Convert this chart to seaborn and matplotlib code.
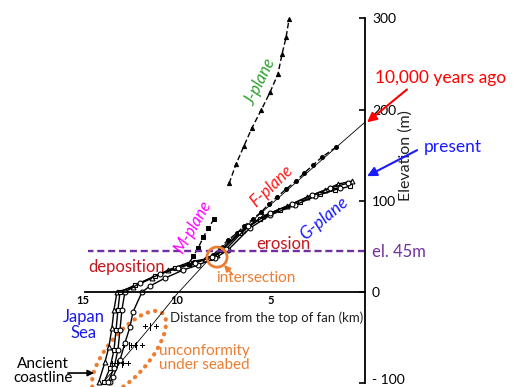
import pandas as pd
import matplotlib.pyplot as plt
import seaborn as sns
from matplotlib.patches import Ellipse
from matplotlib.transforms import ScaledTranslation

# distance from the top of the fan (km) and elevation (m)
j_km = [7.23, 6.86, 6.44, 6.01, 5.53, 5.05, 4.63, 4.41, 4.20, 4.04]
j_el = [119, 140, 160, 180, 199, 219, 239, 261, 279, 299]

f_km = [8.09, 7.71, 7.29, 6.81, 6.44, 5.96, 5.53, 5.11, 4.68, 4.20, 3.67, 3.24, 2.77, 2.29, 1.54]
f_el = [40.5, 48.2, 57.0, 64.6, 72.3, 80.0, 87.6, 96.4, 104.1, 112.8, 121.6, 130.3, 139.1, 147.9, 158.8]

# thin line through the F-plane, continued under the seabed
f_ext_km = [0.0, 8.09, 10.0, 11.33, 13.03, 13.83]
f_ext_el = [186.2, 40.5, -2.2, -36.1, -77.8, -96.4]

m_km = [8.03, 8.33, 8.60, 8.88, 9.15, 9.35]
m_el = [80, 70, 60, 48, 39, 31]

# G-plane bundle (present surface, continuing under the sea)
g_tri_km = [0.69, 1.44, 2.13, 3.09, 4.15, 5.43, 6.49, 7.55, 7.87, 8.51, 9.31, 10.48, 11.33, 12.34, 13.19,
            13.35, 13.46, 13.62, 13.83, 14.15]
g_tri_el = [121.6, 118.3, 111.7, 104.1, 94.2, 83.2, 67.9, 48.2, 40.5, 36.1, 32.9, 24.1, 15.3, 5.5, 0,
            -19.7, -39.4, -60.2, -76.7, -98]

g_sq_km = [0.80, 1.60, 2.39, 3.46, 4.52, 5.59, 6.65, 7.61, 8.24, 9.04, 10.11, 11.17, 12.23, 13.03,
           13.14, 13.24, 13.35, 13.56, 13.88]
g_sq_el = [116, 111.7, 107.3, 98.6, 89.8, 80, 64.6, 46, 37.2, 32.9, 26.3, 17.5, 7.7, 0,
           -19.7, -41.6, -63.5, -83.2, -99]

g_oa_km = [1.33, 2.66, 3.72, 5.05, 6.12, 7.29, 7.98, 8.88, 9.68, 10.64, 11.44, 11.86,
           12.34, 12.50, 12.77, 13.03, 13.40, 13.56]
g_oa_el = [113.9, 105.1, 95.3, 84.3, 70.1, 46, 37.2, 29.6, 24.1, 15.3, 6.6, 0,
           -21.9, -38.3, -55.9, -74.5, -93.1, -99]

g_ob_km = [0.90, 1.86, 2.82, 3.88, 5.05, 6.22, 7.39, 8.14, 9.04, 9.95, 10.9, 11.97, 12.77,
           12.93, 13.03, 13.14, 13.35, 13.67]
g_ob_el = [119.4, 113.9, 106.2, 96.4, 86.5, 72.3, 47.1, 38.3, 31.8, 26.3, 19.7, 9.9, 0,
           -19.7, -41.6, -63.5, -83.2, -99]

# unconformity marks under the seabed
unc_km = [11.40, 12.10, 12.50, 12.85, 13.15]
unc_el = [-38, -59, -59, -79, -79]

sea_level_el = 45

sns.set_style('white')
plt.rcParams['font.family'] = ['Lato', 'DejaVu Sans']

fig = plt.figure(figsize=(5.2, 3.87), dpi=100)
ax = fig.add_axes([0, 0, 1, 1])

dash = (0, (4, 2))
sns.lineplot(x=j_km, y=j_el, sort=False, estimator=None, ax=ax, color='black', lw=1,
             ls=dash, marker='^', ms=3, mfc='black', mec='black')
sns.lineplot(x=f_ext_km, y=f_ext_el, sort=False, estimator=None, ax=ax, color='black', lw=0.6)
sns.lineplot(x=f_km, y=f_el, sort=False, estimator=None, ax=ax, color='black', lw=1,
             ls=dash, marker='o', ms=2.8, mfc='black', mec='black')
sns.lineplot(x=m_km, y=m_el, sort=False, estimator=None, ax=ax, color='black', lw=1,
             ls=dash, marker='s', ms=3, mfc='black', mec='black')

for xs, ys, mk in [(g_tri_km, g_tri_el, '^'), (g_sq_km, g_sq_el, 's'),
                   (g_oa_km, g_oa_el, 'o'), (g_ob_km, g_ob_el, 'o')]:
    sns.lineplot(x=xs, y=ys, sort=False, estimator=None, ax=ax, color='black', lw=1,
                 marker=mk, ms=3.5, mfc='white', mec='black', mew=0.8)

sns.scatterplot(x=unc_km, y=unc_el, ax=ax, marker='$+|+$', s=130, color='black', linewidth=0)

# el. 45 m line
ax.hlines(sea_level_el, 0, 14.73, colors='#7030A0', linestyles=(0, (3, 1.6)), lw=1.7)

ax.set_xlim(19.41, -8.24)
ax.set_ylim(-104, 320)

for s in ['top', 'left']:
    ax.spines[s].set_visible(False)
ax.spines['right'].set_position(('data', 0))
ax.spines['right'].set_bounds(-100, 300)
ax.spines['bottom'].set_position(('data', 0))
ax.spines['bottom'].set_bounds(0, 14.9)
for s in ['right', 'bottom']:
    ax.spines[s].set_color('black')
    ax.spines[s].set_linewidth(1.3)

ax.yaxis.tick_right()
ax.set_yticks([-100, 0, 100, 200, 300])
ax.set_yticklabels(['- 100', '0', '100', '200', '300'])
ax.tick_params(axis='y', direction='in', length=4, width=1.2, pad=5, labelsize=10, colors='black')
lab = ax.get_yticklabels()[0]
lab.set_transform(lab.get_transform() + ScaledTranslation(0, 4 / 100, fig.dpi_scale_trans))
ax.set_xticks([15, 10, 5])
ax.set_xticklabels(['15', '10', '5'], fontweight='bold')
ax.tick_params(axis='x', direction='in', length=4, width=1.2, pad=2, labelsize=8, colors='black')
ax.set_xlabel('')
ax.set_ylabel('')

ax.text(-2.13, 150, 'Elevation (m)', rotation=90, ha='center', va='center', fontsize=11.5, color='#222222')
ax.text(10.37, -28.5, 'Distance from the top of fan (km)', ha='left', va='center', fontsize=9.5, color='#222222')

ax.text(5.59, 230, 'J-plane', rotation=64, ha='center', va='center', fontsize=12, style='italic', color='#2EA02E')
ax.text(4.95, 116, 'F-plane', rotation=44, ha='center', va='center', fontsize=12, style='italic', color='#FF1A1A')
ax.text(9.15, 71, 'M-plane', rotation=60, ha='center', va='center', fontsize=12, style='italic', color='#FF00FF')
ax.text(2.18, 81, 'G-plane', rotation=40, ha='center', va='center', fontsize=12.5, style='italic', color='#1A1AFF')

ax.text(4.36, 52.6, 'erosion', ha='center', va='center', fontsize=12, color='#C4161C')
ax.text(12.66, 27.4, 'deposition', ha='center', va='center', fontsize=12, color='#C4161C')
ax.text(5.8, 15.3, 'intersection', ha='center', va='center', fontsize=11, color='#ED7D31')
ax.text(-0.37, 43.8, 'el. 45m', ha='left', va='center', fontsize=12, color='#7030A0')
ax.text(14.95, -36, 'Japan\nSea', ha='center', va='center', fontsize=12, color='#1A1AE6', linespacing=1.0)
ax.text(17.13, -86, 'Ancient\ncoastline', ha='center', va='center', fontsize=11, color='black', linespacing=1.0)
ax.text(10.96, -71.8, 'unconformity\nunder seabed', ha='left', va='center', fontsize=11, color='#ED7D31', linespacing=1.0)

ax.annotate('10,000 years ago', xy=(-0.11, 186), xytext=(-0.53, 234), ha='left', va='center',
            fontsize=12.5, color='#FF0000')
ax.annotate('', xy=(-0.11, 186), xytext=(-2.23, 222),
            arrowprops=dict(arrowstyle='-|>', color='#FF0000', lw=1.5, mutation_scale=14, shrinkA=0, shrinkB=0))
ax.text(-3.14, 159, 'present', ha='left', va='center', fontsize=12.5, color='#1A1AFF')
ax.annotate('', xy=(-0.11, 127), xytext=(-2.77, 155.5),
            arrowprops=dict(arrowstyle='-|>', color='#1A1AFF', lw=1.5, mutation_scale=14, shrinkA=0, shrinkB=0))
ax.annotate('', xy=(7.5, 29.6), xytext=(7.07, 19.7),
            arrowprops=dict(arrowstyle='-|>', color='#ED7D31', lw=1.3, mutation_scale=9, shrinkA=0, shrinkB=0))
ax.annotate('', xy=(14.41, -88.7), xytext=(15.8, -88.7),
            arrowprops=dict(arrowstyle='-|>', color='black', lw=1.2, mutation_scale=9, shrinkA=0, shrinkB=0))

# intersection circle and the dotted outline of the unconformity
ax.scatter([7.87], [38.3], s=210, facecolors='none', edgecolors='#ED7D31', linewidths=2, zorder=5)
ax.add_patch(Ellipse((1.29, 0.34), 1.04, 0.42, angle=50, transform=fig.dpi_scale_trans,
                     fill=False, edgecolor='#ED7D31', lw=3, ls=(0, (0.1, 1.7)), capstyle='round'))

fig.savefig('out.png', dpi=100)
